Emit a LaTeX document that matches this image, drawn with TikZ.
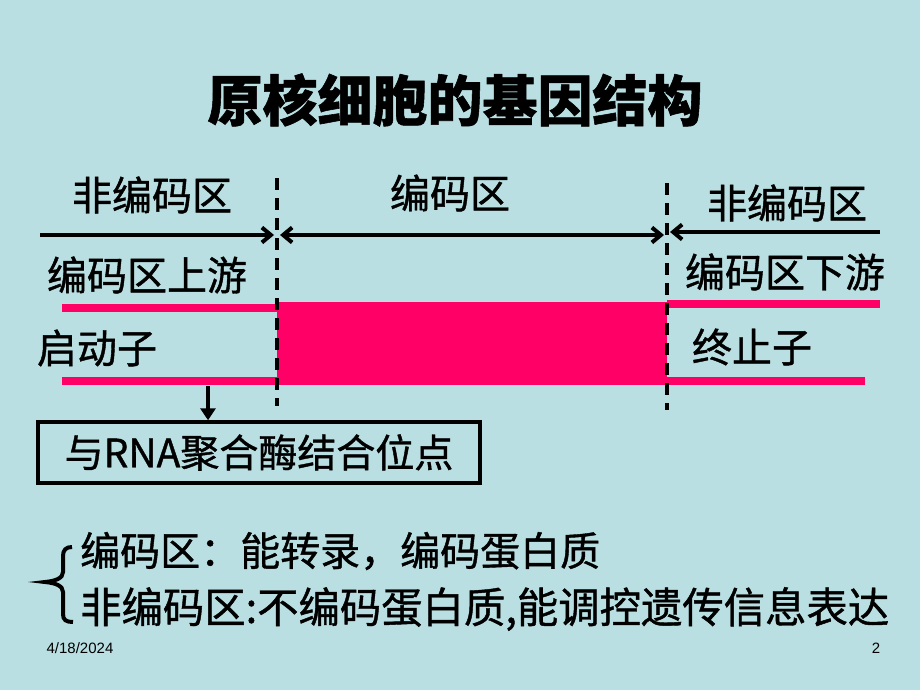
\documentclass[tikz,border=0pt]{standalone}
\usepackage{fontspec}
\setmainfont{Liberation Sans}
\newfontfamily\cjk[FakeBold=1]{Noto Sans CJK SC}
\usetikzlibrary{arrows.meta}
\definecolor{bg}{RGB}{185,223,226}
\definecolor{dna}{RGB}{255,0,102}
\begin{document}
\begin{tikzpicture}[x=1pt,y=-1pt,
  lbl/.style={inner sep=0pt,font=\cjk\fontsize{40}{44}\selectfont},
  ttl/.style={inner sep=0pt,font=\cjk\bfseries\fontsize{55}{60}\selectfont},
  dline/.style={line width=4pt,dash pattern=on 12pt off 8pt},
  barb/.tip={Straight Barb[length=9pt,width=15pt,line width=4pt]},
  harrow/.style={line width=4pt,-barb},
  strand/.style={dna,line width=8pt},
  foot/.style={inner sep=0pt,font=\fontsize{15}{17}\selectfont}]
\useasboundingbox (0,0) rectangle (920,690);
\fill[bg] (0,0) rectangle (920,690);

\node[ttl] (title) at (455,100) {原核细胞的基因结构};

\node[lbl] (nc1) at (152,195) {非编码区};
\node[lbl] (cod) at (450,193) {编码区};
\node[lbl] (nc2) at (787,203) {非编码区};
\node[lbl] (up) at (147,275) {编码区上游};
\node[lbl] (down) at (785,272) {编码区下游};
\node[lbl] (prom) at (97,348) {启动子};
\node[lbl] (term) at (752,347) {终止子};

% dashed boundaries
\coordinate (d1t) at (277,178); \coordinate (d1b) at (277,406);
\coordinate (d2t) at (667,183); \coordinate (d2b) at (667,410);

% region arrows
\coordinate (a1s) at (40,235); \coordinate (a1e) at (274,235);
\coordinate (a2s) at (280,235); \coordinate (a2e) at (664,235);
\coordinate (a3s) at (880,232); \coordinate (a3e) at (670,232);
\draw[harrow] (a1s) -- (a1e);
\draw[harrow,barb-barb] (a2s) -- (a2e);
\draw[harrow] (a3s) -- (a3e);

% DNA strands
\coordinate (lt1) at (62,308); \coordinate (lt2) at (277,308);
\coordinate (lb1) at (62,381); \coordinate (lb2) at (277,381);
\coordinate (rt1) at (667,304); \coordinate (rt2) at (880,304);
\coordinate (rb1) at (667,381); \coordinate (rb2) at (865,381);
\draw[strand] (lt1) -- (lt2);
\draw[strand] (lb1) -- (lb2);
\draw[strand] (rt1) -- (rt2);
\draw[strand] (rb1) -- (rb2);
\fill[dna] (277,302) rectangle (667,385);

\draw[dline] (d1t) -- (d1b);
\draw[dline] (d2t) -- (d2b);

% binding site box
\node[draw,line width=3.5pt,minimum width=442pt,minimum height=61pt,inner sep=0pt,
  font=\cjk\fontsize{39}{44}\selectfont] (box) at (259,452.5) {与RNA聚合酶结合位点};
\coordinate (ps) at (208,386);
\draw[line width=4.5pt,-{Triangle[length=12pt,width=15pt]}] (ps) -- (box.north -| ps);

% summary
\node[lbl,anchor=west] (s1) at (80,551) {编码区：能转录，编码蛋白质};
\node[lbl,anchor=west,font=\cjk\fontsize{42}{46}\selectfont,xscale=0.985] (s2) at (80,609) {非编码区:不编码蛋白质,能调控遗传信息表达};
\draw[line width=4pt] (72,547) .. controls (66,547) and (63,550) .. (63,556)
  -- (63,572) .. controls (63,578) and (56,581) .. (45,582)
  .. controls (56,583) and (63,586) .. (63,592)
  -- (63,614) .. controls (63,620) and (66,622) .. (73,622);

\node[foot] (date) at (80,648) {4/18/2024};
\node[foot] (page) at (876,648) {2};
\end{tikzpicture}
\end{document}
